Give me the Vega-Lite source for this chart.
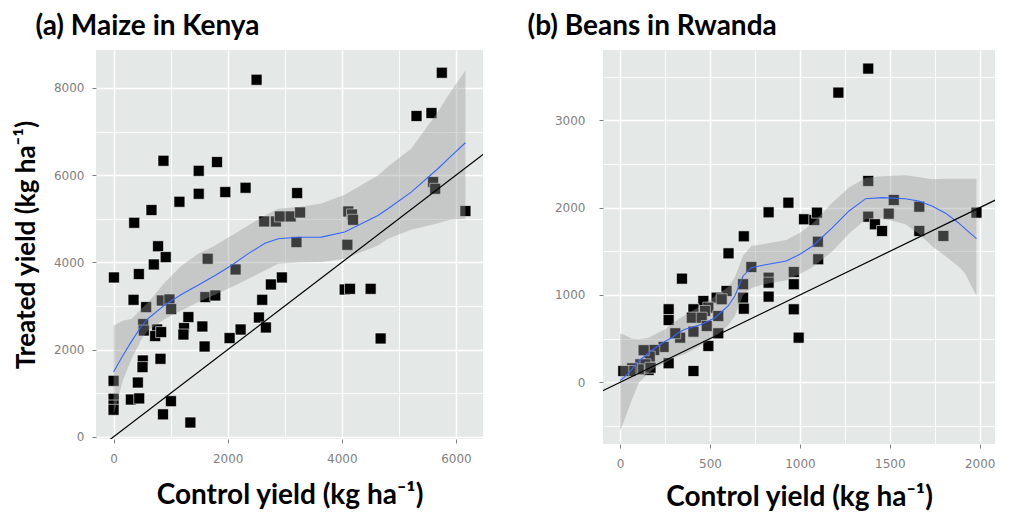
{
  "$schema": "https://vega.github.io/schema/vega-lite/v6.json",
  "background": "white",
  "padding": {"left": 13, "top": 13, "right": 5, "bottom": 5},
  "spacing": 44,
  "datasets": {
    "maize_pts": [
      {"control": 2506, "treated": 8188}, {"control": 874, "treated": 6330}, {"control": 1492, "treated": 6100},
      {"control": 1813, "treated": 6300}, {"control": 664, "treated": 5200}, {"control": 362, "treated": 4908},
      {"control": 1154, "treated": 5390}, {"control": 1492, "treated": 5573}, {"control": 1958, "treated": 5612},
      {"control": 2313, "treated": 5711}, {"control": 780, "treated": 4370}, {"control": 914, "treated": 4121},
      {"control": 705, "treated": 3952}, {"control": 6, "treated": 3654}, {"control": 443, "treated": 3732},
      {"control": 1649, "treated": 4083}, {"control": 2138, "treated": 3837}, {"control": 2949, "treated": 3654},
      {"control": 2757, "treated": 3493}, {"control": 2605, "treated": 3142}, {"control": 2547, "treated": 2736},
      {"control": 2669, "treated": 2507}, {"control": 350, "treated": 3142}, {"control": 571, "treated": 2974},
      {"control": 845, "treated": 3126}, {"control": 979, "treated": 3149}, {"control": 1009, "treated": 2929},
      {"control": 1608, "treated": 3204}, {"control": 1783, "treated": 3241}, {"control": 1311, "treated": 2745},
      {"control": 1556, "treated": 2530}, {"control": 1235, "treated": 2493}, {"control": 1224, "treated": 2346},
      {"control": 519, "treated": 2585}, {"control": 530, "treated": 2438}, {"control": 764, "treated": 2461},
      {"control": 729, "treated": 2310}, {"control": 834, "treated": 2401}, {"control": 2226, "treated": 2461},
      {"control": 1595, "treated": 2071}, {"control": 2033, "treated": 2264}, {"control": 822, "treated": 1789},
      {"control": 512, "treated": 1750}, {"control": 507, "treated": 1598}, {"control": 0, "treated": 1284},
      {"control": 425, "treated": 1245}, {"control": 0, "treated": 872}, {"control": 0, "treated": 718},
      {"control": 0, "treated": 620}, {"control": 303, "treated": 855}, {"control": 449, "treated": 880},
      {"control": 1005, "treated": 817}, {"control": 866, "treated": 515}, {"control": 1346, "treated": 328},
      {"control": 2640, "treated": 4938}, {"control": 2844, "treated": 4938}, {"control": 2914, "treated": 5053},
      {"control": 3103, "treated": 5053}, {"control": 3269, "treated": 5144}, {"control": 3217, "treated": 5589},
      {"control": 5752, "treated": 8349}, {"control": 5309, "treated": 7356}, {"control": 5571, "treated": 7424},
      {"control": 4114, "treated": 5167}, {"control": 4178, "treated": 5099}, {"control": 4196, "treated": 4977},
      {"control": 3205, "treated": 4465}, {"control": 4097, "treated": 4404}, {"control": 5600, "treated": 5842},
      {"control": 5636, "treated": 5688}, {"control": 6166, "treated": 5177}, {"control": 4050, "treated": 3378},
      {"control": 4143, "treated": 3394}, {"control": 4505, "treated": 3394}, {"control": 4680, "treated": 2255}
    ],
    "maize_fit": [
      {"x": 0, "fit": 1484, "lo": 500, "hi": 2550},
      {"x": 163, "fit": 1865, "lo": 1300, "hi": 2660},
      {"x": 320, "fit": 2200, "lo": 1800, "hi": 2710},
      {"x": 495, "fit": 2553, "lo": 2250, "hi": 2950},
      {"x": 612, "fit": 2720, "lo": 2450, "hi": 3090},
      {"x": 904, "fit": 3030, "lo": 2706, "hi": 3548},
      {"x": 1195, "fit": 3270, "lo": 2900, "hi": 3929},
      {"x": 1486, "fit": 3480, "lo": 3089, "hi": 4197},
      {"x": 1778, "fit": 3700, "lo": 3260, "hi": 4388},
      {"x": 2069, "fit": 3935, "lo": 3433, "hi": 4617},
      {"x": 2360, "fit": 4200, "lo": 3620, "hi": 4847},
      {"x": 2652, "fit": 4440, "lo": 3814, "hi": 5076},
      {"x": 2885, "fit": 4541, "lo": 3968, "hi": 5229},
      {"x": 3234, "fit": 4575, "lo": 4000, "hi": 5270},
      {"x": 3642, "fit": 4580, "lo": 4010, "hi": 5350},
      {"x": 4050, "fit": 4695, "lo": 4083, "hi": 5550},
      {"x": 4633, "fit": 5076, "lo": 4388, "hi": 5993},
      {"x": 4808, "fit": 5230, "lo": 4541, "hi": 6200},
      {"x": 5216, "fit": 5612, "lo": 4750, "hi": 6606},
      {"x": 5682, "fit": 6147, "lo": 4900, "hi": 7450},
      {"x": 5900, "fit": 6420, "lo": 4980, "hi": 7900},
      {"x": 6166, "fit": 6743, "lo": 5000, "hi": 8400}
    ],
    "maize_11": [{"x": -400, "y": -400}, {"x": 6600, "y": 6600}],
    "beans_pts": [
      {"control": 936, "treated": 2057}, {"control": 826, "treated": 1947}, {"control": 1023, "treated": 1867},
      {"control": 1080, "treated": 1859}, {"control": 1095, "treated": 1943}, {"control": 688, "treated": 1672},
      {"control": 603, "treated": 1477}, {"control": 730, "treated": 1320}, {"control": 1100, "treated": 1610},
      {"control": 1380, "treated": 3593}, {"control": 1214, "treated": 3318}, {"control": 1380, "treated": 2306},
      {"control": 1102, "treated": 1409}, {"control": 1380, "treated": 1897}, {"control": 1417, "treated": 1810},
      {"control": 1457, "treated": 1733}, {"control": 1494, "treated": 1931}, {"control": 1522, "treated": 2088},
      {"control": 1664, "treated": 2011}, {"control": 1664, "treated": 1733}, {"control": 1798, "treated": 1676},
      {"control": 1982, "treated": 1943}, {"control": 344, "treated": 1187}, {"control": 826, "treated": 1198},
      {"control": 826, "treated": 1141}, {"control": 966, "treated": 1263}, {"control": 966, "treated": 1123},
      {"control": 684, "treated": 1123}, {"control": 684, "treated": 969}, {"control": 592, "treated": 1046},
      {"control": 537, "treated": 969}, {"control": 565, "treated": 951}, {"control": 826, "treated": 981},
      {"control": 688, "treated": 843}, {"control": 966, "treated": 836}, {"control": 993, "treated": 511},
      {"control": 463, "treated": 931}, {"control": 491, "treated": 855}, {"control": 472, "treated": 817},
      {"control": 408, "treated": 836}, {"control": 399, "treated": 740}, {"control": 454, "treated": 740},
      {"control": 482, "treated": 645}, {"control": 408, "treated": 580}, {"control": 546, "treated": 759},
      {"control": 546, "treated": 561}, {"control": 491, "treated": 416}, {"control": 270, "treated": 836},
      {"control": 270, "treated": 713}, {"control": 334, "treated": 511}, {"control": 307, "treated": 561},
      {"control": 242, "treated": 405}, {"control": 190, "treated": 370}, {"control": 165, "treated": 295},
      {"control": 131, "treated": 367}, {"control": 270, "treated": 218}, {"control": 408, "treated": 129},
      {"control": 159, "treated": 141}, {"control": 113, "treated": 206}, {"control": 141, "treated": 206},
      {"control": 104, "treated": 149}, {"control": 169, "treated": 167}, {"control": 67, "treated": 160},
      {"control": 58, "treated": 129}, {"control": 18, "treated": 129}
    ],
    "beans_fit": [
      {"x": 0, "fit": 20, "lo": -560, "hi": 560},
      {"x": 21, "fit": 53, "lo": -450, "hi": 545},
      {"x": 67, "fit": 150, "lo": -195, "hi": 500},
      {"x": 104, "fit": 244, "lo": -5, "hi": 492},
      {"x": 159, "fit": 335, "lo": 110, "hi": 510},
      {"x": 196, "fit": 396, "lo": 170, "hi": 550},
      {"x": 251, "fit": 470, "lo": 225, "hi": 607},
      {"x": 288, "fit": 511, "lo": 270, "hi": 670},
      {"x": 325, "fit": 570, "lo": 300, "hi": 722},
      {"x": 362, "fit": 607, "lo": 325, "hi": 770},
      {"x": 454, "fit": 664, "lo": 430, "hi": 880},
      {"x": 528, "fit": 740, "lo": 515, "hi": 989},
      {"x": 601, "fit": 874, "lo": 650, "hi": 1090},
      {"x": 638, "fit": 989, "lo": 760, "hi": 1200},
      {"x": 684, "fit": 1218, "lo": 1000, "hi": 1450},
      {"x": 730, "fit": 1313, "lo": 1080, "hi": 1560},
      {"x": 794, "fit": 1340, "lo": 1120, "hi": 1580},
      {"x": 924, "fit": 1389, "lo": 1170, "hi": 1630},
      {"x": 1000, "fit": 1466, "lo": 1240, "hi": 1714},
      {"x": 1071, "fit": 1561, "lo": 1320, "hi": 1820},
      {"x": 1181, "fit": 1771, "lo": 1500, "hi": 2060},
      {"x": 1273, "fit": 1962, "lo": 1700, "hi": 2230},
      {"x": 1366, "fit": 2103, "lo": 1867, "hi": 2344},
      {"x": 1458, "fit": 2115, "lo": 1880, "hi": 2360},
      {"x": 1587, "fit": 2103, "lo": 1810, "hi": 2371},
      {"x": 1660, "fit": 2077, "lo": 1700, "hi": 2350},
      {"x": 1734, "fit": 2020, "lo": 1561, "hi": 2325},
      {"x": 1808, "fit": 1940, "lo": 1447, "hi": 2330},
      {"x": 1881, "fit": 1828, "lo": 1330, "hi": 2330},
      {"x": 1918, "fit": 1760, "lo": 1250, "hi": 2330},
      {"x": 1982, "fit": 1645, "lo": 989, "hi": 2332}
    ],
    "beans_11": [{"x": -200, "y": -200}, {"x": 2200, "y": 2200}]
  },
  "hconcat": [
    {
      "width": 387,
      "height": 389,
      "title": {"text": "(a) Maize in Kenya", "anchor": "start", "dx": 22, "offset": 9},
      "layer": [
        {
          "data": {"name": "maize_pts"},
          "mark": {"type": "point", "shape": "square", "filled": true, "size": 120, "fill": "#000000", "stroke": "#ffffff", "strokeWidth": 0.6, "opacity": 1, "clip": true},
          "encoding": {
            "x": {"field": "control", "type": "quantitative", "scale": {"domain": [-308, 6474], "nice": false, "zero": false},
              "axis": {"values": [0, 1000, 2000, 3000, 4000, 5000, 6000], "format": "d", "title": "Control yield (kg ha⁻¹)", "titleFontSize": 28, "titlePadding": 17, "labelPadding": 10,
                "labelExpr": "datum.value % 2000 === 0 ? datum.label : ''",
                "gridWidth": {"condition": {"test": "datum.value % 2000 !== 0", "value": 0.8}, "value": 1.5},
                "tickOpacity": {"condition": {"test": "datum.value % 2000 !== 0", "value": 0}, "value": 1}}},
            "y": {"field": "treated", "type": "quantitative", "scale": {"domain": [-50, 8870], "nice": false, "zero": false},
              "axis": {"values": [0, 1000, 2000, 3000, 4000, 5000, 6000, 7000, 8000], "format": "d", "title": "Treated yield (kg ha⁻¹)", "titlePadding": 14, "labelPadding": 8,
                "labelExpr": "datum.value % 2000 === 0 ? datum.label : ''",
                "gridWidth": {"condition": {"test": "datum.value % 2000 !== 0", "value": 0.8}, "value": 1.5},
                "tickOpacity": {"condition": {"test": "datum.value % 2000 !== 0", "value": 0}, "value": 1}}}
          }
        },
        {
          "data": {"name": "maize_fit"},
          "mark": {"type": "area", "color": "#999999", "opacity": 0.4, "clip": true},
          "encoding": {
            "x": {"field": "x", "type": "quantitative"},
            "y": {"field": "lo", "type": "quantitative"},
            "y2": {"field": "hi"}
          }
        },
        {
          "data": {"name": "maize_fit"},
          "mark": {"type": "line", "color": "#3366FF", "strokeWidth": 1.1, "clip": true},
          "encoding": {
            "x": {"field": "x", "type": "quantitative"},
            "y": {"field": "fit", "type": "quantitative"}
          }
        },
        {
          "data": {"name": "maize_11"},
          "mark": {"type": "line", "color": "#000000", "strokeWidth": 1.2, "clip": true},
          "encoding": {
            "x": {"field": "x", "type": "quantitative"},
            "y": {"field": "y", "type": "quantitative"}
          }
        }
      ]
    },
    {
      "width": 392,
      "height": 394,
      "title": {"text": "(b) Beans in Rwanda", "anchor": "start", "dx": -27, "offset": 9},
      "layer": [
        {
          "data": {"name": "beans_pts"},
          "mark": {"type": "point", "shape": "square", "filled": true, "size": 120, "fill": "#000000", "stroke": "#ffffff", "strokeWidth": 0.6, "opacity": 1, "clip": true},
          "encoding": {
            "x": {"field": "control", "type": "quantitative", "scale": {"domain": [-95, 2085], "nice": false, "zero": false},
              "axis": {"values": [0, 250, 500, 750, 1000, 1250, 1500, 1750, 2000], "format": "d", "title": "Control yield (kg ha⁻¹)", "titleFontSize": 28, "titlePadding": 14, "labelPadding": 10,
                "labelExpr": "datum.value % 500 === 0 ? datum.label : ''",
                "gridWidth": {"condition": {"test": "datum.value % 500 !== 0", "value": 0.8}, "value": 1.5},
                "tickOpacity": {"condition": {"test": "datum.value % 500 !== 0", "value": 0}, "value": 1}}},
            "y": {"field": "treated", "type": "quantitative", "scale": {"domain": [-707, 3806], "nice": false, "zero": false},
              "axis": {"values": [-500, 0, 500, 1000, 1500, 2000, 2500, 3000, 3500], "format": "d", "title": null, "labelPadding": 14,
                "labelExpr": "datum.value % 1000 === 0 ? datum.label : ''",
                "gridWidth": {"condition": {"test": "datum.value % 1000 !== 0", "value": 0.8}, "value": 1.5},
                "tickOpacity": {"condition": {"test": "datum.value % 1000 !== 0", "value": 0}, "value": 1}}}
          }
        },
        {
          "data": {"name": "beans_fit"},
          "mark": {"type": "area", "color": "#999999", "opacity": 0.4, "clip": true},
          "encoding": {
            "x": {"field": "x", "type": "quantitative"},
            "y": {"field": "lo", "type": "quantitative"},
            "y2": {"field": "hi"}
          }
        },
        {
          "data": {"name": "beans_fit"},
          "mark": {"type": "line", "color": "#3366FF", "strokeWidth": 1.1, "clip": true},
          "encoding": {
            "x": {"field": "x", "type": "quantitative"},
            "y": {"field": "fit", "type": "quantitative"}
          }
        },
        {
          "data": {"name": "beans_11"},
          "mark": {"type": "line", "color": "#000000", "strokeWidth": 1.2, "clip": true},
          "encoding": {
            "x": {"field": "x", "type": "quantitative"},
            "y": {"field": "y", "type": "quantitative"}
          }
        }
      ]
    }
  ],
  "config": {
    "view": {"fill": "#E4E8E7", "stroke": null},
    "title": {"font": "Lato", "fontSize": 28, "fontWeight": "bold", "color": "#000000"},
    "axis": {
      "domain": false,
      "gridColor": "#FFFFFF",
      "tickColor": "#7F7F7F",
      "tickSize": 4,
      "tickWidth": 1,
      "labelFont": "DejaVu Sans",
      "labelFontSize": 12,
      "labelColor": "#7F7F7F",
      "titleFont": "Lato",
      "titleFontSize": 26,
      "titleFontWeight": "bold",
      "titleColor": "#000000"
    }
  }
}
